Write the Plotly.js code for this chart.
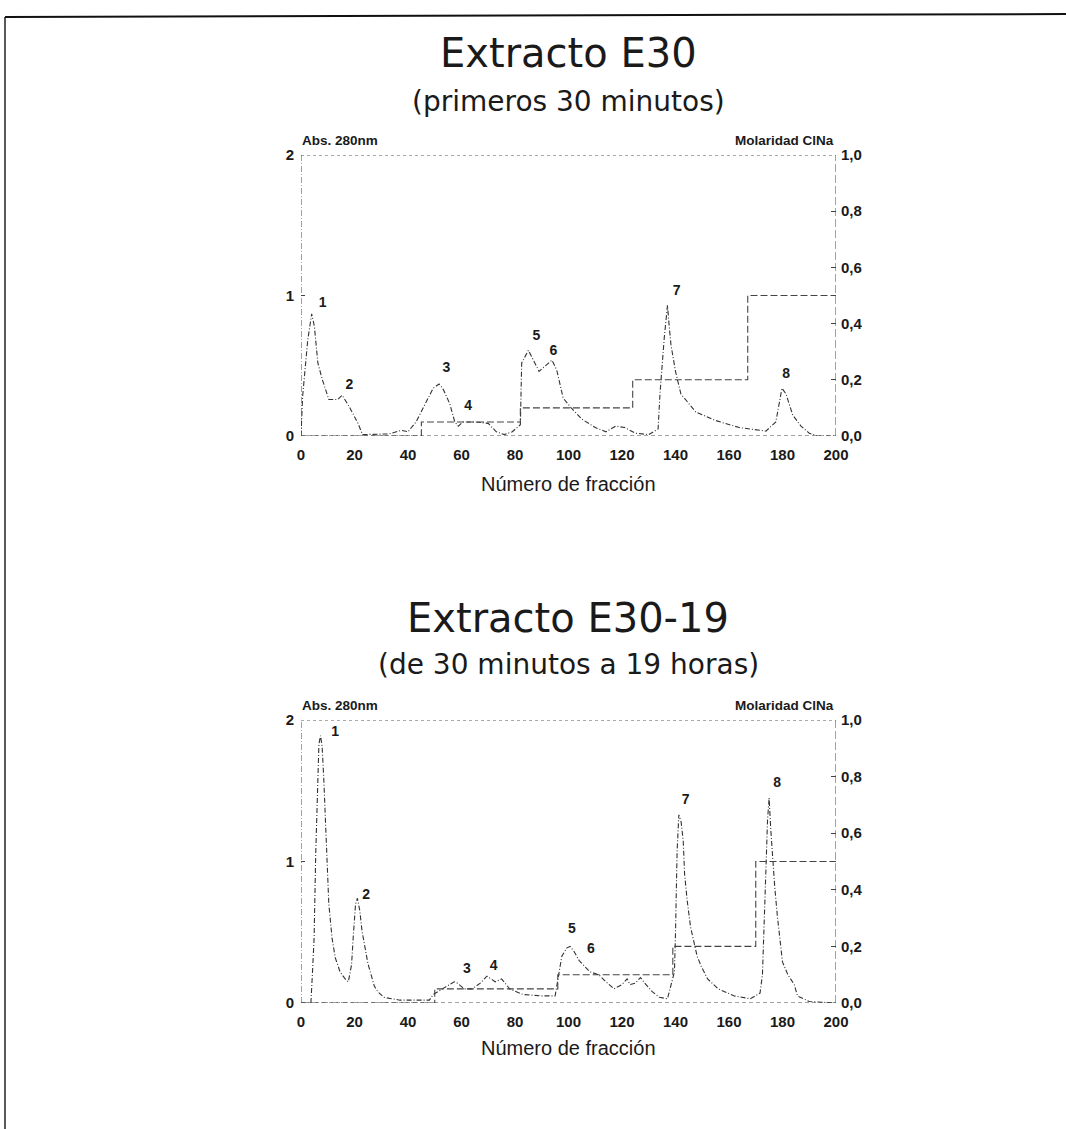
<!DOCTYPE html>
<html>
<head>
<meta charset="utf-8">
<script src="https://cdn.plot.ly/plotly-3.0.1.min.js"></script>
<style>html,body{margin:0;padding:0;background:#fff;}#chart{width:1066px;height:1129px;}</style>
</head>
<body>
<div id="chart"></div>
<script>
// ---------- DATA ----------
const xTickVals = [0, 20, 40, 60, 80, 100, 120, 140, 160, 180, 200];
const absTickVals = [0, 1, 2];
const molTickVals = [0, 0.2, 0.4, 0.6, 0.8, 1.0];
const molTickText = ["0,0", "0,2", "0,4", "0,6", "0,8", "1,0"];

// Extracto E30 — absorbance at 280 nm
const e30AbsX = [0, 0.6, 2.5, 4, 5, 6.3, 8, 10.4, 13.7, 15.4, 18, 21.3, 23, 29, 33, 37.5, 40, 43, 46, 49.4, 51.6, 53, 55.6, 57.5, 58.8, 60.5, 65, 70, 73, 76, 79, 82, 82.5, 85, 89, 93.8, 95.6, 98, 101, 105, 110, 114, 117.7, 121, 125, 130, 133.5, 134.2, 135.8, 137, 137.7, 138.3, 140, 142, 147.6, 155, 163.8, 173.8, 177.5, 178.6, 179.8, 181.3, 183.8, 186.9, 190, 193, 200];
const e30AbsY = [0, 0.28, 0.68, 0.87, 0.78, 0.52, 0.40, 0.26, 0.26, 0.29, 0.21, 0.09, 0.01, 0.01, 0.015, 0.04, 0.03, 0.10, 0.21, 0.34, 0.37, 0.34, 0.23, 0.10, 0.07, 0.10, 0.10, 0.09, 0.03, 0.01, 0.03, 0.08, 0.52, 0.61, 0.46, 0.54, 0.47, 0.27, 0.20, 0.12, 0.06, 0.03, 0.07, 0.06, 0.02, 0.01, 0.05, 0.30, 0.70, 0.93, 0.77, 0.65, 0.46, 0.30, 0.17, 0.11, 0.06, 0.035, 0.10, 0.22, 0.34, 0.30, 0.15, 0.07, 0.02, 0, 0];
// Extracto E30 — NaCl molarity (step gradient)
const e30MolX = [0, 45, 45, 82, 82, 124, 124, 167, 167, 200];
const e30MolY = [0, 0, 0.05, 0.05, 0.1, 0.1, 0.2, 0.2, 0.5, 0.5];
// Extracto E30 — peak labels
const e30PeakText = ["1", "2", "3", "4", "5", "6", "7", "8"];
const e30PeakX = [8.1, 18.1, 54.4, 62.5, 88, 94.4, 140.4, 181.4];
const e30PeakY = [0.94, 0.36, 0.48, 0.21, 0.71, 0.60, 1.03, 0.44];

// Extracto E30-19 — absorbance at 280 nm
const e3019AbsX = [0, 3.7, 4.3, 4.9, 5.5, 6.1, 6.7, 7.3, 7.9, 8.5, 9.1, 9.8, 10.4, 11.6, 12.8, 14.6, 16.5, 17.7, 18.9, 19.5, 20.4, 21.1, 22, 22.8, 23.8, 25, 27.4, 28.7, 31, 37, 45, 48, 49.4, 52, 56, 57.3, 58.5, 61, 64, 67, 69.5, 72.6, 75, 78, 83, 90, 95, 96.3, 97.5, 99.4, 100.6, 101.9, 104, 108, 111.3, 114, 117, 120, 121.9, 123, 125, 126.9, 128.5, 131.3, 134, 137, 139.6, 140, 140.6, 141.25, 142.1, 142.9, 143.4, 144.4, 145.6, 146.9, 148.1, 149.6, 152, 156, 162, 168, 171.6, 172.5, 173.1, 173.75, 174.4, 175, 175.6, 176.25, 177.1, 178.1, 179.1, 180, 182, 184.4, 185.6, 190, 200];
const e3019AbsY = [0, 0, 0.22, 0.46, 1.05, 1.52, 1.83, 1.89, 1.81, 1.59, 1.29, 1.05, 0.70, 0.46, 0.32, 0.22, 0.17, 0.15, 0.27, 0.46, 0.70, 0.74, 0.65, 0.51, 0.39, 0.28, 0.12, 0.08, 0.04, 0.02, 0.02, 0.02, 0.06, 0.09, 0.14, 0.15, 0.14, 0.10, 0.10, 0.14, 0.19, 0.15, 0.17, 0.10, 0.06, 0.05, 0.05, 0.20, 0.33, 0.39, 0.40, 0.37, 0.30, 0.22, 0.20, 0.15, 0.10, 0.13, 0.17, 0.13, 0.14, 0.18, 0.14, 0.08, 0.04, 0.03, 0.22, 0.49, 1.07, 1.33, 1.28, 1.14, 0.91, 0.72, 0.54, 0.43, 0.33, 0.26, 0.17, 0.10, 0.05, 0.03, 0.07, 0.20, 0.49, 0.91, 1.29, 1.45, 1.23, 1.02, 0.82, 0.61, 0.45, 0.29, 0.20, 0.13, 0.05, 0.01, 0];
// Extracto E30-19 — NaCl molarity (step gradient)
const e3019MolX = [0, 50, 50, 96, 96, 139, 139, 170, 170, 200];
const e3019MolY = [0, 0, 0.05, 0.05, 0.1, 0.1, 0.2, 0.2, 0.5, 0.5];
// Extracto E30-19 — peak labels
const e3019PeakText = ["1", "2", "3", "4", "5", "6", "7", "8"];
const e3019PeakX = [12.8, 24.4, 62, 72, 101.25, 108.4, 143.75, 178];
const e3019PeakY = [1.91, 0.76, 0.24, 0.26, 0.52, 0.38, 1.43, 1.55];

// ---------- LAYOUT / STYLE ----------
const W = 1066, H = 1129;
const FONT = "Liberation Sans, Arial, Helvetica, sans-serif";
const TFONT = "DejaVu Sans, Liberation Sans, sans-serif";
const INK = "#1a1a1a";
const px = v => v / W;
const py = v => 1 - v / H;

const xDom = [px(301), px(836)];
const topDom = [py(436), py(155)];
const botDom = [py(1003), py(720)];

const absLine = {color: "#333", width: 1.1, dash: "5px,2px,1px,2px"};
const molLine = {color: "#444", width: 1.1, dash: "7px,3px"};
const peakFont = {family: FONT, size: 14, color: INK, weight: "bold"};

const traces = [
  {x: e30AbsX, y: e30AbsY, xaxis: "x", yaxis: "y", mode: "lines", line: absLine, hoverinfo: "skip"},
  {x: e30MolX, y: e30MolY, xaxis: "x", yaxis: "y2", mode: "lines", line: molLine, hoverinfo: "skip"},
  {x: e30PeakX, y: e30PeakY, text: e30PeakText, xaxis: "x", yaxis: "y", mode: "text", textfont: peakFont, cliponaxis: false, hoverinfo: "skip"},
  {x: e3019AbsX, y: e3019AbsY, xaxis: "x2", yaxis: "y3", mode: "lines", line: absLine, hoverinfo: "skip"},
  {x: e3019MolX, y: e3019MolY, xaxis: "x2", yaxis: "y4", mode: "lines", line: molLine, hoverinfo: "skip"},
  {x: e3019PeakX, y: e3019PeakY, text: e3019PeakText, xaxis: "x2", yaxis: "y3", mode: "text", textfont: peakFont, cliponaxis: false, hoverinfo: "skip"}
];

const tickFont = {family: FONT, size: 15, color: INK, weight: "bold"};
function xAx(anchor) {
  return {domain: xDom, anchor: anchor, range: [0, 200], tickvals: xTickVals, ticks: "", showgrid: false,
          zeroline: false, showline: false, tickfont: tickFont, ticklabelstandoff: 8, fixedrange: true};
}
function yAbs(dom, anchor) {
  return {domain: dom, anchor: anchor, range: [0, 2], tickvals: absTickVals, ticks: "inside", ticklen: 4,
          tickcolor: "#444", showgrid: false, zeroline: false, showline: false, tickfont: tickFont,
          ticklabelstandoff: 6, fixedrange: true};
}
function yMol(over, anchor) {
  return {overlaying: over, anchor: anchor, side: "right", range: [0, 1], tickvals: molTickVals, ticktext: molTickText,
          ticks: "inside", ticklen: 5, tickcolor: "#444", showgrid: false, zeroline: false, showline: false,
          tickfont: tickFont, ticklabelstandoff: 4, fixedrange: true};
}

function frame(xr, yr) {
  return [
    {type: "line", xref: xr, yref: yr, x0: 0, x1: 200, y0: 2, y1: 2, line: {color: "#555", width: 1, dash: "dot"}},
    {type: "line", xref: xr, yref: yr, x0: 0, x1: 0, y0: 0, y1: 2, line: {color: "#444", width: 1, dash: "6px,2px,1px,2px"}},
    {type: "line", xref: xr, yref: yr, x0: 200, x1: 200, y0: 0, y1: 2, line: {color: "#444", width: 1, dash: "8px,3px"}},
    {type: "line", xref: xr, yref: yr, x0: 0, x1: 200, y0: 0, y1: 0, line: {color: "#444", width: 1, dash: "4px,3px"}}
  ];
}

const shapes = [
  // scanned page border
  {type: "line", xref: "paper", yref: "paper", x0: px(5), x1: 1, y0: py(17), y1: py(14), line: {color: "#111", width: 2}},
  {type: "line", xref: "paper", yref: "paper", x0: px(5), x1: px(5), y0: py(17), y1: 0, line: {color: "#222", width: 1.5}}
].concat(frame("x", "y"), frame("x2", "y3"));

function ann(text, x, y, size, opts, family) {
  return Object.assign({text: text, xref: "paper", yref: "paper", x: px(x), y: py(y), showarrow: false,
                        xanchor: "center", yanchor: "middle", font: {family: family || FONT, size: size, color: INK}}, opts || {});
}

const annotations = [
  ann("Extracto E30", 568, 53, 40, null, TFONT),
  ann("(primeros 30 minutos)", 568, 101, 28, null, TFONT),
  ann("<b>Abs. 280nm</b>", 300, 140, 13.5, {xanchor: "left"}),
  ann("<b>Molaridad ClNa</b>", 836, 140, 13.5, {xanchor: "right"}),
  ann("Número de fracción", 568, 484, 20),
  ann("Extracto E30-19", 568, 618, 40, null, TFONT),
  ann("(de 30 minutos a 19 horas)", 568, 664, 28, null, TFONT),
  ann("<b>Abs. 280nm</b>", 300, 705, 13.5, {xanchor: "left"}),
  ann("<b>Molaridad ClNa</b>", 836, 705, 13.5, {xanchor: "right"}),
  ann("Número de fracción", 568, 1048, 20)
];

const layout = {
  width: W, height: H,
  margin: {l: 0, r: 0, t: 0, b: 0, autoexpand: false},
  paper_bgcolor: "#fff", plot_bgcolor: "#fff",
  showlegend: false,
  font: {family: FONT, color: INK},
  xaxis: xAx("y"),
  yaxis: yAbs(topDom, "x"),
  yaxis2: yMol("y", "x"),
  xaxis2: xAx("y3"),
  yaxis3: yAbs(botDom, "x2"),
  yaxis4: yMol("y3", "x2"),
  shapes: shapes,
  annotations: annotations
};

Plotly.newPlot("chart", traces, layout, {staticPlot: true, displayModeBar: false});
</script>
</body>
</html>
